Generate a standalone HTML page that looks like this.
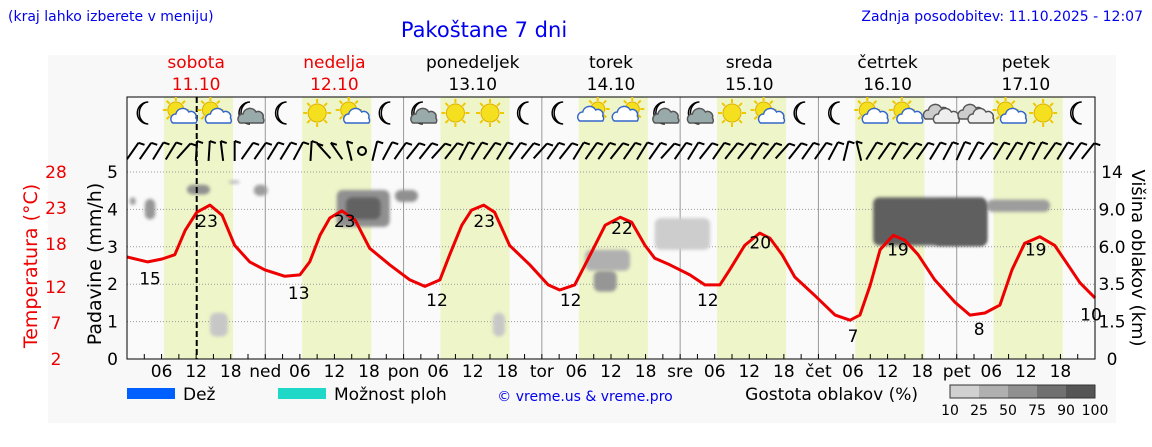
<!DOCTYPE html>
<html><head><meta charset="utf-8"><style>
body{margin:0;background:#fff;width:1152px;height:443px;overflow:hidden;font-family:"DejaVu Sans","Liberation Sans",sans-serif}
svg text{font-family:"DejaVu Sans","Liberation Sans",sans-serif}
</style></head><body>
<svg id="c" width="1152" height="443" xmlns="http://www.w3.org/2000/svg">
<rect x="0" y="0" width="1152" height="443" fill="#fff"/>
<rect x="48" y="55" width="1068" height="368" fill="#f8f8f8"/>
<rect x="127" y="97" width="968" height="262" fill="#fafafa"/>
<text x="8" y="21" font-size="14" fill="#0000ee">(kraj lahko izberete v meniju)</text>
<text x="484" y="37" font-size="21" fill="#0000ee" text-anchor="middle">Pakoštane 7 dni</text>
<text x="1143" y="21" font-size="14" fill="#0000ee" text-anchor="end">Zadnja posodobitev: 11.10.2025 - 12:07</text>
<g id="g"></g>
</svg>
<script>
const dayNames=["sobota","nedelja","ponedeljek","torek","sreda","četrtek","petek"];
const dayDates=["11.10","12.10","13.10","14.10","15.10","16.10","17.10"];
const dayAbbr=["","ned","pon","tor","sre","čet","pet"];
const precipTicks=[0,1,2,3,4,5];
const tempTicks=[2,7,12,18,23,28];
const cloudTicks=[0,1.5,3.5,6.0,9.0,14];
const cloudTickLabels=["0","1.5","3.5","6.0","9.0","14"];
const tempHours=[0,3.6,6.1,8.3,10.1,12.1,14.4,16.5,18.7,21.3,23.9,27.4,30,31.7,33.5,35.2,37.3,39.6,42.1,45.6,49.1,51.7,54.3,56,58.1,59.8,61.9,63.8,66.4,69.9,73.1,75.1,77.7,80.4,83,85.6,87.6,89.9,91.6,94.2,97.7,100.3,102.9,104.6,107.2,109.8,111.6,113.7,115.9,119.4,122.9,125.5,127.2,129,130.7,133,135,137.3,140.2,143.7,146.3,148.9,151.5,153.6,155.8,158.4,161,163.3,165.4,168];
const tempValues=[16.2,15.5,15.9,16.5,19.9,22.4,23.4,22.0,17.8,15.5,14.4,13.5,13.7,15.5,19.2,21.6,22.6,21.3,17.4,15.1,13.0,12.1,13.0,16.5,20.6,22.7,23.4,22.4,17.8,15.1,12.3,11.6,12.3,16.5,20.6,21.7,21.0,17.8,16.0,15.1,13.7,12.3,12.3,14.4,17.8,19.5,18.8,16.5,13.4,10.8,8.1,7.4,8.1,12.3,17.2,19.2,18.5,16.5,13.0,9.9,8.1,8.4,9.5,14.4,18.1,19.0,17.8,15.1,12.6,10.5];
const labelHours=[4.0,13.9,29.8,37.8,53.8,62.0,77.0,85.9,100.8,109.9,126.0,133.8,147.9,157.7,167.3];
const labelValues=[15,23,13,23,12,23,12,22,12,20,7,19,8,19,10];
// cloud cells: start hour, end hour, low km, high km, density %
const cloudStart=[0.5,3.1,10.4,17.6,22,36.4,38,46.5,14.4,63.5,79.5,81,91.6,149.2,140,129.5];
const cloudEnd=[1.5,4.9,14.4,19.6,24.4,45.6,44,50.5,17.5,65.6,87.3,85,101.2,160.2,149.2,149.2];
const cloudLow=[9.6,8.2,11.0,12.4,10.8,7.6,8.2,10.0,0.9,0.9,4.4,3.1,5.8,8.8,6.1,6.1];
const cloudHigh=[10.6,10.4,12.3,12.9,12.3,11.6,10.6,11.6,1.97,1.97,5.8,4.4,8.3,10.3,10.2,10.6];
const cloudDensity=[45,50,55,20,45,55,90,55,12,12,30,50,8,45,95,92];
const iconTypes=["moon","suncloud","suncloud","mooncloud","moon","sun","suncloud","moon","mooncloud","sun","sun","moon","moon","cloudsun","cloudsun","mooncloud","mooncloud","sun","suncloud","moon","moon","suncloud","suncloud","clouds","clouds","suncloud","sun","moon"];
const windDirs=[50,50,45,45,60,5,5,-10,0,50,50,45,45,40,5,-60,-50,-20,999,20,40,50,55,55,60,55,40,45,50,45,50,55,60,50,55,45,50,50,55,50,45,50,60,50,45,55,50,55,55,50,55,60,55,50,50,40,20,-20,45,50,45,55,50,45,40,35,40,50,45,45,40,40,50,45,50,55];

const NS="http://www.w3.org/2000/svg";
const G=document.getElementById('g');
const X0=127,X1=1095,YT=172,YB=359;
const xh=h=>X0+(X1-X0)*h/168;
const yP=p=>YB-(YB-YT)*p/5;
const yT=t=>YB-(YB-YT)*(t-2)/26;
function yC(k){for(let i=0;i<cloudTicks.length-1;i++){if(k<=cloudTicks[i+1]){const f=(k-cloudTicks[i])/(cloudTicks[i+1]-cloudTicks[i]);return yP(i+f);}}return YT;}
function el(tag,a,parent){const e=document.createElementNS(NS,tag);for(const k in a)e.setAttribute(k,a[k]);(parent||G).appendChild(e);return e;}
function tx(x,y,s,size,fill,anchor,name){const t=el('text',{x:x,y:y,'font-size':size,fill:fill,'text-anchor':anchor||'middle'});t.textContent=s;


return t;}

for(let d=0;d<7;d++){const r=el('rect',{x:xh(d*24+6.4),y:97,width:xh(d*24+18.4)-xh(d*24+6.4),height:262,fill:'#eef5c8'});

}
precipTicks.forEach(p=>{if(p>0){const l=el('line',{x1:X0,x2:X1,y1:yP(p),y2:yP(p),stroke:'#999','stroke-dasharray':'1,2'});

}});
for(let d=1;d<7;d++){const l=el('line',{x1:xh(d*24),x2:xh(d*24),y1:97,y2:YB,stroke:'#999'});

}
const defs=el('defs',{});const f=el('filter',{id:'bl',x:'-50%',y:'-50%',width:'200%',height:'200%'},defs);el('feGaussianBlur',{stdDeviation:'1.5'},f);
cloudStart.forEach((s,i)=>{const d=cloudDensity[i];const g=Math.round(215-(d/100)*130);
const x=xh(s),w=xh(cloudEnd[i])-x,y=yC(cloudHigh[i]),h=yC(cloudLow[i])-y;
const e=el('rect',{x:x,y:y,width:w,height:h,rx:Math.min(6,w/2),fill:`rgb(${g},${g},${g})`,filter:'url(#bl)'});

});
const nl=el('line',{x1:xh(12.1),x2:xh(12.1),y1:97,y2:YB,stroke:'#000','stroke-width':2,'stroke-dasharray':'6,3'});


const pts=tempHours.map((h,i)=>xh(h).toFixed(1)+','+yT(tempValues[i]).toFixed(1)).join(' ');
const tl=el('polyline',{points:pts,fill:'none',stroke:'#ee0000','stroke-width':3,'stroke-linejoin':'round'});


labelHours.forEach((h,i)=>{const v=labelValues[i];tx(xh(h),yT(v)+19,String(v),17,'#000','middle','temperature-label');});
const fr=el('rect',{x:X0,y:97,width:X1-X0,height:262,fill:'none',stroke:'#000','stroke-width':1});


for(let h=3;h<168;h+=3){el('line',{x1:xh(h),x2:xh(h),y1:YB-5,y2:YB,stroke:'#000'});}
precipTicks.forEach(p=>tx(118,yP(p)+6,String(p),17,'#000','end','precip-tick'));
tempTicks.forEach(t=>tx(56,yT(t)+6,String(t),17,'#ee0000','middle','temp-tick'));
cloudTicks.forEach((c,i)=>tx(1112,yC(c)+6,cloudTickLabels[i],17,'#000','middle','cloud-height-tick'));
for(let d=0;d<7;d++){[6,12,18].forEach(h=>tx(xh(d*24+h),377,String(h).padStart(2,'0'),17,'#000','middle','hour-tick'));
if(d>0)tx(xh(d*24),377,dayAbbr[d],17,'#000','middle','day-tick');
const c=d<2?'#ee0000':'#000';tx(xh(d*24+12),68,dayNames[d],17,c,'middle','day-name');tx(xh(d*24+12),90,dayDates[d],17,c,'middle','day-date');}
let a=tx(0,0,'Temperatura (°C)',19,'#ee0000','middle','temp-axis-title');a.setAttribute('transform','translate(37,266) rotate(-90)');
a=tx(0,0,'Padavine (mm/h)',19,'#000','middle','precip-axis-title');a.setAttribute('transform','translate(101,264) rotate(-90)');
a=tx(0,0,'Višina oblakov (km)',18,'#000','middle','cloud-axis-title');a.setAttribute('transform','translate(1132,258) rotate(90)');
function sun(x,y,r){const g=el('g',{});for(let k=0;k<8;k++){const an=k*Math.PI/4;el('line',{x1:x+Math.cos(an)*(r+1),y1:y+Math.sin(an)*(r+1),x2:x+Math.cos(an)*(r+5),y2:y+Math.sin(an)*(r+5),stroke:'#f0c800','stroke-width':2},g);}el('circle',{cx:x,cy:y,r:r,fill:'#f5e020',stroke:'#e0b000'},g);}
function moon(x,y){el('path',{d:`M${x+4},${y-11} A11,11 0 1,0 ${x+4},${y+11} A9,11 0 0,1 ${x+4},${y-11}Z`,fill:'#fff',stroke:'#000','stroke-width':1.5});}
function cloud(x,y,c,s){el('path',{d:`M${x-10*s},${y+5*s} a5,5 0 0,1 3,-9 a7,7 0 0,1 13,-2 a5,5 0 0,1 7,6 a4,4 0 0,1 0,5 z`,fill:c,stroke:c=='#fff'?'#3366cc':'#555','stroke-width':1.5});}
iconTypes.forEach((t,i)=>{const h=Math.floor(i/4)*24+3+(i%4)*6;const x=xh(h),y=113;
if(t=='moon')moon(x,y);
if(t=='mooncloud'){moon(x-2,y);cloud(x+2,y+5,'#9aa',1);}
if(t=='sun')sun(x,y,9);
if(t=='suncloud'){sun(x-3,y-3,8);cloud(x+4,y+5,'#fff',1);}
if(t=='cloudsun'){sun(x+4,y-4,7);cloud(x-4,y+3,'#fff',1);}
if(t=='clouds'){cloud(x-4,y+1,'#ccc',1);cloud(x+6,y+5,'#eee',1);}});
windDirs.forEach((dg,i)=>{const h=i*168/windDirs.length+1;const x=xh(h),y=151;
if(dg==999){el('circle',{cx:x,cy:y,r:4,fill:'none',stroke:'#000','stroke-width':2});return;}
const an=(90-dg*0.7)*Math.PI/180;const x2=x+Math.cos(an)*10,y2=y-Math.sin(an)*10,x1=x-Math.cos(an)*10,y1=y+Math.sin(an)*10;
el('line',{x1:x1,y1:y1,x2:x2,y2:y2,stroke:'#000','stroke-width':2});
el('line',{x1:x2,y1:y2,x2:x2+6,y2:y2+2,stroke:'#000','stroke-width':2});});
function leg(x,c,label,name){const r=el('rect',{x:x,y:388,width:48,height:11,fill:c});


tx(x+56,400,label,17,'#000','start',name+'-label');}
leg(127,'#0060ff','Dež','legend-rain');leg(278,'#20d8c8','Možnost ploh','legend-showers');
tx(585,401,'© vreme.us & vreme.pro',14,'#0000ee','middle','copyright');
tx(918,400,'Gostota oblakov (%)',17,'#000','end','cloud-density-label');
const greys=['#d0d0d0','#b0b0b0','#909090','#707070','#555'];
greys.forEach((g,i)=>{const r=el('rect',{x:950+i*29,y:385,width:29,height:13,fill:g});

});
el('rect',{x:950,y:385,width:145,height:13,fill:'none',stroke:'#333'});
['10','25','50','75','90','100'].forEach((s,i)=>tx(950+i*29,415,s,14,'#000','middle','density-tick'));
</script>
</body></html>
